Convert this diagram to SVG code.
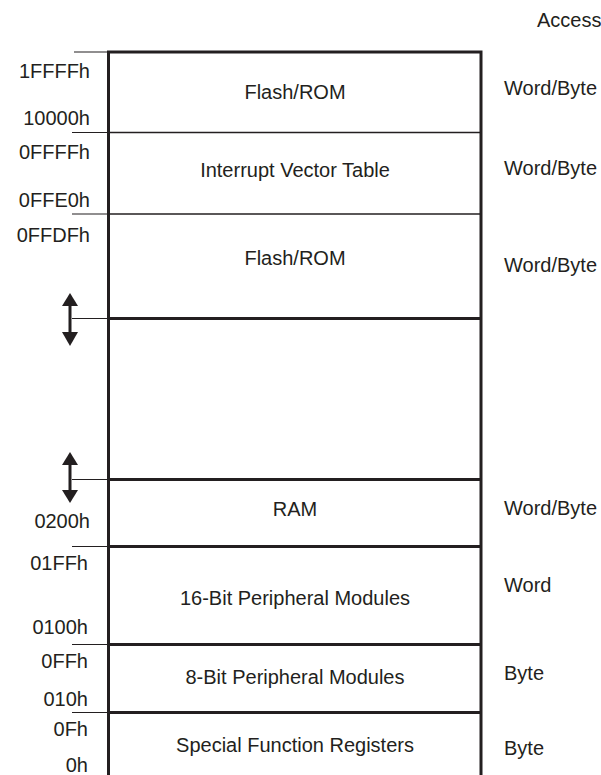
<svg xmlns="http://www.w3.org/2000/svg" width="601" height="775" viewBox="0 0 601 775">
<style>
text{font-family:"Liberation Sans",Arial,sans-serif;font-size:20px;fill:#231f20}
.addr{text-anchor:end}
.mid{text-anchor:middle}
.tick{stroke:#231f20;stroke-width:1.2;fill:none}
.thin{stroke:#231f20;stroke-width:1.3;fill:none}
.thick{stroke:#231f20;stroke-width:3;fill:none}
.arr{fill:#231f20}
</style>
<rect width="601" height="775" fill="#fff"/>
<g id="connectors">
<line class="tick" x1="74" y1="52" x2="108" y2="52"/>
<line class="tick" x1="72" y1="132.5" x2="108" y2="132.5"/>
<line class="tick" x1="72" y1="214" x2="108" y2="214"/>
<line class="tick" x1="72" y1="318.5" x2="108" y2="318.5"/>
<line class="tick" x1="72" y1="479.5" x2="108" y2="479.5"/>
<line class="tick" x1="72" y1="546.5" x2="108" y2="546.5"/>
<line class="tick" x1="72" y1="644.5" x2="108" y2="644.5"/>
<line class="tick" x1="72" y1="712.5" x2="108" y2="712.5"/>
</g>
<g id="frame">
<path class="thick" d="M108.5,775 V52 H481 V775"/>
<line class="thin" x1="108" y1="132.5" x2="481" y2="132.5"/>
<line class="thin" x1="108" y1="214" x2="481" y2="214"/>
<line class="thick" x1="108" y1="318.5" x2="481" y2="318.5"/>
<line class="thick" x1="108" y1="479.5" x2="481" y2="479.5"/>
<line class="thick" x1="108" y1="546.5" x2="481" y2="546.5"/>
<line class="thick" x1="108" y1="644.5" x2="481" y2="644.5"/>
<line class="thick" x1="108" y1="712.5" x2="481" y2="712.5"/>
</g>
<g id="arrow1">
<line x1="70" y1="302" x2="70" y2="337" stroke="#231f20" stroke-width="3"/>
<polygon class="arr" points="70,293 78,306 62,306"/>
<polygon class="arr" points="70,346 78,332 62,332"/>
</g>
<g id="arrow2">
<line x1="70" y1="461" x2="70" y2="494" stroke="#231f20" stroke-width="3"/>
<polygon class="arr" points="70,452 78,465 62,465"/>
<polygon class="arr" points="70,503 78,490 62,490"/>
</g>
<g id="access"><text x="537" y="27">Access</text></g>
<g id="flash-high">
<text class="addr" x="90" y="78">1FFFFh</text>
<text class="addr" x="90" y="125">10000h</text>
<text class="mid" x="295" y="99">Flash/ROM</text>
<text x="504" y="95">Word/Byte</text>
</g>
<g id="ivt">
<text class="addr" x="90" y="159">0FFFFh</text>
<text class="addr" x="90" y="207">0FFE0h</text>
<text class="mid" x="295" y="177">Interrupt Vector Table</text>
<text x="504" y="175">Word/Byte</text>
</g>
<g id="flash-low">
<text class="addr" x="90" y="242">0FFDFh</text>
<text class="mid" x="295" y="265">Flash/ROM</text>
<text x="504" y="272">Word/Byte</text>
</g>
<g id="ram">
<text class="addr" x="90" y="528">0200h</text>
<text class="mid" x="295" y="516">RAM</text>
<text x="504" y="515">Word/Byte</text>
</g>
<g id="periph16">
<text class="addr" x="88" y="570">01FFh</text>
<text class="addr" x="88" y="634">0100h</text>
<text class="mid" x="295" y="605">16-Bit Peripheral Modules</text>
<text x="504" y="592">Word</text>
</g>
<g id="periph8">
<text class="addr" x="88" y="668">0FFh</text>
<text class="addr" x="88" y="706">010h</text>
<text class="mid" x="295" y="684">8-Bit Peripheral Modules</text>
<text x="504" y="680">Byte</text>
</g>
<g id="sfr">
<text class="addr" x="88" y="736">0Fh</text>
<text class="addr" x="88" y="772">0h</text>
<text class="mid" x="295" y="752">Special Function Registers</text>
<text x="504" y="755">Byte</text>
</g>
</svg>
